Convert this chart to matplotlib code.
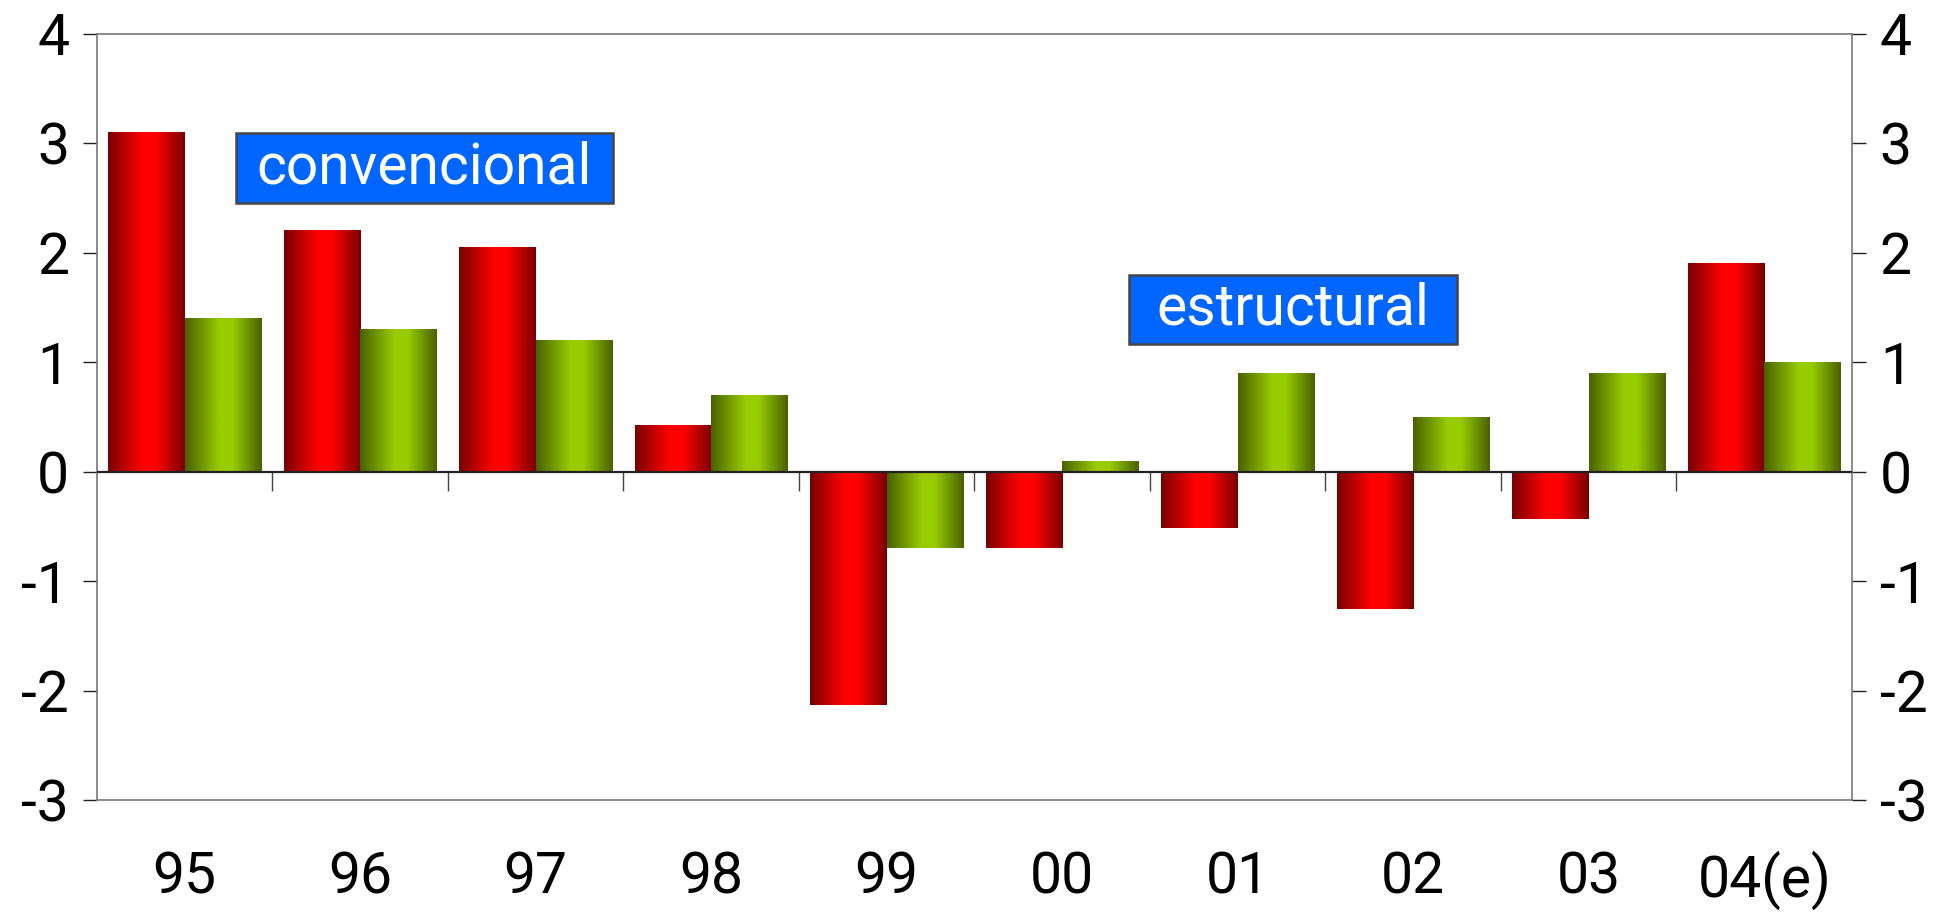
import numpy as np
import matplotlib
matplotlib.use("Agg")
import matplotlib.pyplot as plt
from matplotlib.patches import Rectangle
from matplotlib.colors import LinearSegmentedColormap

# data
years = ["95", "96", "97", "98", "99", "00", "01", "02", "03", "04(e)"]
convencional = [3.1, 2.2, 2.05, 0.42, -2.13, -0.7, -0.51, -1.25, -0.43, 1.9]
estructural = [1.4, 1.3, 1.2, 0.7, -0.7, 0.1, 0.9, 0.5, 0.9, 1.0]
yticks = [-3, -2, -1, 0, 1, 2, 3, 4]

plt.rcParams['font.family'] = ['Roboto', 'DejaVu Sans']

red_cmap = LinearSegmentedColormap.from_list(
    "red", [(0, "#7a0000"), (0.45, "#ff0000"), (0.62, "#ff0000"), (1, "#7a0000")])
green_cmap = LinearSegmentedColormap.from_list(
    "green", [(0, "#4a6100"), (0.45, "#99cc00"), (0.62, "#99cc00"), (1, "#4a6100")])


def shade_bars(ax, bars, cmap):
    grad = np.linspace(0, 1, 256).reshape(1, -1)
    for b in bars:
        x0, y0 = b.get_x(), b.get_y()
        w, h = b.get_width(), b.get_height()
        ax.imshow(grad, cmap=cmap, aspect="auto", interpolation="bilinear",
                  extent=(x0, x0 + w, min(y0, y0 + h), max(y0, y0 + h)), zorder=2)


def label_box(ax, x0, x1, y0, y1, txt):
    ax.add_patch(Rectangle((x0, y0), x1 - x0, y1 - y0, facecolor="#0066ff",
                           edgecolor="#444444", lw=1.8, zorder=5))
    ax.text((x0 + x1) / 2, (y0 + y1) / 2, txt, color="white", fontsize=41,
            ha="center", va="center", zorder=6)


fig = plt.figure(figsize=(19.46, 9.14), dpi=100)
ax = fig.add_axes([0.0498, 0.1242, 0.9019, 0.8391])

x = np.arange(len(years))
w = 0.435
b1 = ax.bar(x - w / 2, convencional, w, color="none", edgecolor="none")
b2 = ax.bar(x + w / 2, estructural, w, color="none", edgecolor="none")
shade_bars(ax, b1, red_cmap)
shade_bars(ax, b2, green_cmap)

ax.set_xlim(-0.5, len(years) - 0.5)
ax.set_ylim(-3, 4)
ax.axhline(0, color="#222222", lw=1.6, zorder=3)

for s in ax.spines.values():
    s.set_color("#777777")
    s.set_linewidth(1.2)

ax.set_yticks(yticks)
ax.set_yticklabels([str(v) for v in yticks])
ax.tick_params(axis="y", which="both", direction="out", length=10, width=1,
               color="#222222", labelsize=41, pad=10, left=True, right=True,
               labelleft=True, labelright=True)

ax.set_xticks(x)
ax.set_xticklabels(years)
ax.tick_params(axis="x", length=0, labelsize=41, pad=36)

# category separators hanging below the zero line
sec = ax.secondary_xaxis(3 / 7)
sec.set_xticks(np.arange(0.5, len(years) - 1, 1.0))
sec.set_xticklabels([])
sec.tick_params(direction="out", length=14, width=1, color="#444444")
sec.spines["bottom"].set_visible(False)

label_box(ax, 0.29, 2.44, 2.45, 3.09, "convencional")
label_box(ax, 5.38, 7.25, 1.17, 1.80, "estructural")

fig.savefig("out.png", dpi=100)
